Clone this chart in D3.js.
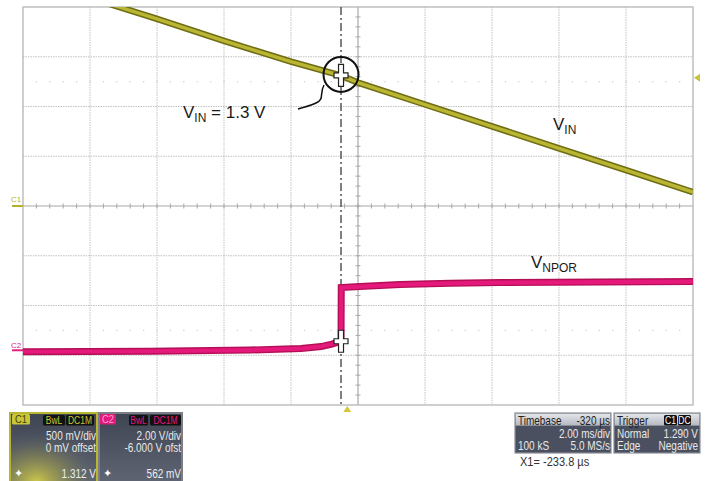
<!DOCTYPE html>
<html><head><meta charset="utf-8">
<script src="https://cdn.jsdelivr.net/npm/d3@7"></script>
<style>
html,body{margin:0;padding:0;background:#fff;}
svg{display:block;font-family:"Liberation Sans",Arial,Helvetica,sans-serif;}
</style></head>
<body>
<svg id="c" width="705" height="481"></svg>
<script>
// ---- data (time in ms, voltages in V) ----
const vinTime  = [-7.6, -6, -4, -2, -0.507, 0, 2, 4, 6, 8, 10];
const vinVolts = [2.05, 1.88, 1.66, 1.45, 1.31, 1.24, 1.02, 0.80, 0.58, 0.36, 0.14];
const nporTime  = [-10, -6.2, -3.2, -1.7, -1.1, -0.78, -0.507, -0.5, 0.06, 1.25, 2.75, 4.24, 7.22, 10];
const nporVolts = [0.14, 0.16, 0.21, 0.27, 0.35, 0.45, 0.562, 2.72, 2.76, 2.84, 2.89, 2.92, 2.94, 2.96];
const cursorTime = -0.507;
const cursorVin = 1.312;
const cursorNpor = 0.562;
const triggerTime = -0.32;
const triggerLevel = 1.29;
const c1Marker = 0;
const c2Marker = 0.2;
const xDivs = 10, yDivs = 8;

// ---- scales ----
const L = 23, R = 693, T = 7, B = 405;
const x = d3.scaleLinear().domain([-10, 10]).range([L, R]);
const y1 = d3.scaleLinear().domain([-2, 2]).range([B, T]);     // C1: 500 mV/div, 0 offset
const y2 = d3.scaleLinear().domain([-2, 14]).range([B, T]);    // C2: 2 V/div, -6 V offset

const svg = d3.select("#c");
const dx = (R - L) / xDivs, dy = (B - T) / yDivs;

// ---- grid ----
const g = svg.append("g");
for (let i = 1; i < xDivs; i++) {
  if (i === xDivs / 2) continue;
  g.append("line").attr("x1", L + i * dx).attr("x2", L + i * dx).attr("y1", T).attr("y2", B)
    .attr("stroke", "#c2c2c2").attr("stroke-width", 1).attr("stroke-dasharray", "1.5,1");
}
for (let j = 1; j < yDivs; j++) {
  if (j === yDivs / 2) continue;
  g.append("line").attr("y1", T + j * dy).attr("y2", T + j * dy).attr("x1", L).attr("x2", R)
    .attr("stroke", "#c2c2c2").attr("stroke-width", 1).attr("stroke-dasharray", "1.5,1");
}
[1.5, 6.5].forEach(r => {
  for (let k = 1; k < xDivs * 5; k++) {
    g.append("rect").attr("x", L + k * dx / 5 - 0.6).attr("y", T + r * dy - 0.6)
      .attr("width", 1.3).attr("height", 1.3).attr("fill", "#d2d2d2");
  }
});
const cx = L + dx * xDivs / 2, cy = T + dy * yDivs / 2;
g.append("line").attr("x1", L).attr("x2", R).attr("y1", cy).attr("y2", cy).attr("stroke", "#a8a8a8").attr("stroke-width", 1.2);
g.append("line").attr("y1", T).attr("y2", B).attr("x1", cx).attr("x2", cx).attr("stroke", "#a8a8a8").attr("stroke-width", 1.2);
for (let k = 1; k < xDivs * 5; k++) {
  g.append("line").attr("x1", L + k * dx / 5).attr("x2", L + k * dx / 5).attr("y1", cy - 2.5).attr("y2", cy + 2.5)
    .attr("stroke", "#a8a8a8").attr("stroke-width", 1);
}
for (let k = 1; k < yDivs * 5; k++) {
  g.append("line").attr("y1", T + k * dy / 5).attr("y2", T + k * dy / 5).attr("x1", cx - 2.5).attr("x2", cx + 2.5)
    .attr("stroke", "#a8a8a8").attr("stroke-width", 1);
}
g.append("rect").attr("x", L).attr("y", T).attr("width", R - L).attr("height", B - T)
  .attr("fill", "none").attr("stroke", "#b5b5b5").attr("stroke-width", 1.3);

svg.append("clipPath").attr("id", "plot").append("rect").attr("x", L).attr("y", T).attr("width", R - L).attr("height", B - T);

// ---- traces ----
const vinData = vinTime.map((t, i) => [t, vinVolts[i]]);
const nporData = nporTime.map((t, i) => [t, nporVolts[i]]);
const line1 = d3.line().x(d => x(d[0])).y(d => y1(d[1]));
const line2 = d3.line().x(d => x(d[0])).y(d => y2(d[1]));
const tr = svg.append("g").attr("clip-path", "url(#plot)");

tr.append("line").attr("x1", x(cursorTime)).attr("x2", x(cursorTime)).attr("y1", T).attr("y2", B)
  .attr("stroke", "#4a4a4a").attr("stroke-width", 1.4).attr("stroke-dasharray", "8,3,2,3");

tr.append("path").attr("d", line1(vinData)).attr("fill", "none").attr("stroke", "#6f6d14").attr("stroke-width", 6.5);
tr.append("path").attr("d", line1(vinData)).attr("fill", "none").attr("stroke", "#bab634").attr("stroke-width", 3.4);
tr.append("path").attr("d", line2(nporData)).attr("fill", "none").attr("stroke", "#b40f56").attr("stroke-width", 7);
tr.append("path").attr("d", line2(nporData)).attr("fill", "none").attr("stroke", "#e5197b").attr("stroke-width", 4.2);

function cross(px, py) {
  const c = svg.append("g").attr("transform", `translate(${px},${py})`);
  const p = "M-2.5,-11 H2.5 V-2.5 H7 V2.5 H2.5 V11 H-2.5 V2.5 H-7 V-2.5 H-2.5 Z";
  c.append("path").attr("d", p).attr("fill", "#fff").attr("stroke", "#222").attr("stroke-width", 1.2);
}
cross(x(cursorTime), y1(cursorVin));
cross(x(cursorTime), y2(cursorNpor));

svg.append("circle").attr("cx", x(cursorTime)).attr("cy", y1(cursorVin) - 1).attr("r", 17.5)
  .attr("fill", "none").attr("stroke", "#111").attr("stroke-width", 2);
svg.append("path").attr("d", "M324,85 C319,94 325,99 316,103 C310,106 304,107 298,109")
  .attr("fill", "none").attr("stroke", "#111").attr("stroke-width", 1.5);

function label(tx, ty, main, sub, tail) {
  const t = svg.append("text").attr("x", tx).attr("y", ty).attr("font-size", 17).attr("fill", "#1a1a1a");
  t.append("tspan").text(main);
  t.append("tspan").attr("font-size", 12).attr("dy", 4).text(sub);
  if (tail) t.append("tspan").attr("dy", -4).text(tail);
}
label(183, 118, "V", "IN", " = 1.3 V");
label(553, 130, "V", "IN");
label(531, 268, "V", "NPOR");

svg.append("text").attr("x", 11).attr("y", 202).attr("font-size", 8).attr("fill", "#b3b12a").text("C1");
svg.append("line").attr("x1", 12).attr("x2", L).attr("y1", y1(c1Marker)).attr("y2", y1(c1Marker)).attr("stroke", "#b3b12a").attr("stroke-width", 2);
svg.append("text").attr("x", 11).attr("y", y2(c2Marker) - 2).attr("font-size", 8).attr("fill", "#e0237f").text("C2");
svg.append("line").attr("x1", 12).attr("x2", L).attr("y1", y2(c2Marker)).attr("y2", y2(c2Marker)).attr("stroke", "#e0237f").attr("stroke-width", 2);

const tx0 = x(triggerTime);
svg.append("path").attr("d", `M${tx0 - 4},${B + 7} L${tx0 + 4},${B + 7} L${tx0},${B + 1} Z`).attr("fill", "#d6c63a");
const ty0 = y1(triggerLevel);
svg.append("path").attr("d", `M${R + 7},${ty0 - 4} L${R + 7},${ty0 + 4} L${R + 1},${ty0} Z`).attr("fill", "#c8c238");

// ---- info boxes ----
const defs = svg.append("defs");
const gr = defs.append("linearGradient").attr("id", "dark").attr("x1", 0).attr("y1", 0).attr("x2", 0).attr("y2", 1);
gr.append("stop").attr("offset", 0).attr("stop-color", "#3e4452");
gr.append("stop").attr("offset", 1).attr("stop-color", "#5f6573");
const glow = defs.append("radialGradient").attr("id", "glow").attr("cx", 0.3).attr("cy", 1).attr("r", 0.75);
glow.append("stop").attr("offset", 0).attr("stop-color", "#d2cd48").attr("stop-opacity", 0.95);
glow.append("stop").attr("offset", 0.55).attr("stop-color", "#9a974a").attr("stop-opacity", 0.45);
glow.append("stop").attr("offset", 1).attr("stop-color", "#5f6573").attr("stop-opacity", 0);
const hdr = defs.append("linearGradient").attr("id", "hdr").attr("x1", 0).attr("y1", 0).attr("x2", 0).attr("y2", 1);
hdr.append("stop").attr("offset", 0).attr("stop-color", "#e4e6ea");
hdr.append("stop").attr("offset", 1).attr("stop-color", "#b4b8c0");

// condensed text (scope's narrow font): horizontal scale
function nt(xx, yy, s, fs, fill, anchor, sx) {
  svg.append("text").attr("transform", `translate(${xx},${yy}) scale(${sx || 0.8},1)`)
    .attr("font-size", fs).attr("fill", fill).attr("text-anchor", anchor || "start").text(s);
}
function tag(x0, x1, gy, txt, bg, fg, fs) {
  svg.append("rect").attr("x", x0).attr("y", gy).attr("width", x1 - x0).attr("height", 10.5).attr("rx", 1.5).attr("fill", bg);
  nt((x0 + x1) / 2, gy + 9, txt, fs, fg, "middle", 0.85);
}

// C1 box
svg.append("rect").attr("x", 10).attr("y", 413).attr("width", 87).attr("height", 70).attr("fill", "url(#dark)").attr("stroke", "#b8b530").attr("stroke-width", 2);
svg.append("rect").attr("x", 11).attr("y", 414).attr("width", 85).attr("height", 68).attr("fill", "url(#glow)");
tag(12, 30, 414, "C1", "#c9c637", "#3e3e0a", 11);
tag(43, 65, 415, "BwL", "#111", "#c9c637", 10);
tag(66, 94, 415, "DC1M", "#111", "#c9c637", 10);
nt(96, 440, "500 mV/div", 12.5, "#e8e8e8", "end");
nt(96, 452, "0 mV offset", 12.5, "#e8e8e8", "end");
nt(96, 478, "1.312 V", 12.5, "#eeeeee", "end");
svg.append("text").attr("x", 14).attr("y", 477).attr("font-size", 11).attr("fill", "#fff").text("✦");

// C2 box
svg.append("rect").attr("x", 99).attr("y", 413).attr("width", 83).attr("height", 70).attr("fill", "url(#dark)").attr("stroke", "#7a7d86").attr("stroke-width", 2);
tag(100, 116, 414, "C2", "#e3187c", "#f7a7cc", 11);
tag(129, 148, 415, "BwL", "#111", "#e3187c", 10);
tag(150, 181, 415, "DC1M", "#111", "#e3187c", 10);
nt(181, 440, "2.00 V/div", 12.5, "#e8e8e8", "end");
nt(181, 452, "-6.000 V ofst", 12.5, "#e8e8e8", "end");
nt(181, 478, "562 mV", 12.5, "#eeeeee", "end");
svg.append("text").attr("x", 103).attr("y", 477).attr("font-size", 11).attr("fill", "#fff").text("✦");

// Timebase / Trigger boxes
function infoFrame(bx, w) {
  svg.append("rect").attr("x", bx).attr("y", 413).attr("width", w).attr("height", 40).attr("fill", "#4a5060").attr("stroke", "#8a8e96").attr("stroke-width", 1.2);
  svg.append("rect").attr("x", bx + 0.6).attr("y", 413.6).attr("width", w - 1.2).attr("height", 12).attr("fill", "url(#hdr)");
}
infoFrame(515, 96);
nt(518, 424.5, "Timebase", 12.5, "#222");
nt(610, 424.5, "-320 µs", 12.5, "#222", "end");
nt(610, 437.5, "2.00 ms/div", 12.5, "#e8e8e8", "end");
nt(518, 450, "100 kS", 12.5, "#e8e8e8");
nt(610, 450, "5.0 MS/s", 12.5, "#e8e8e8", "end");

infoFrame(614, 86);
nt(617, 424.5, "Trigger", 12.5, "#222");
tag(664, 677, 415, "C1", "#111", "#fff", 10);
tag(678, 691, 415, "DC", "#111", "#fff", 10);
nt(617, 437.5, "Normal", 12.5, "#e8e8e8");
nt(698, 437.5, "1.290 V", 12.5, "#e8e8e8", "end");
nt(617, 450, "Edge", 12.5, "#e8e8e8");
nt(698, 450, "Negative", 12.5, "#e8e8e8", "end");

nt(520, 466, "X1=  -233.8 µs", 13, "#333", "start", 0.85);
</script>
</body></html>
